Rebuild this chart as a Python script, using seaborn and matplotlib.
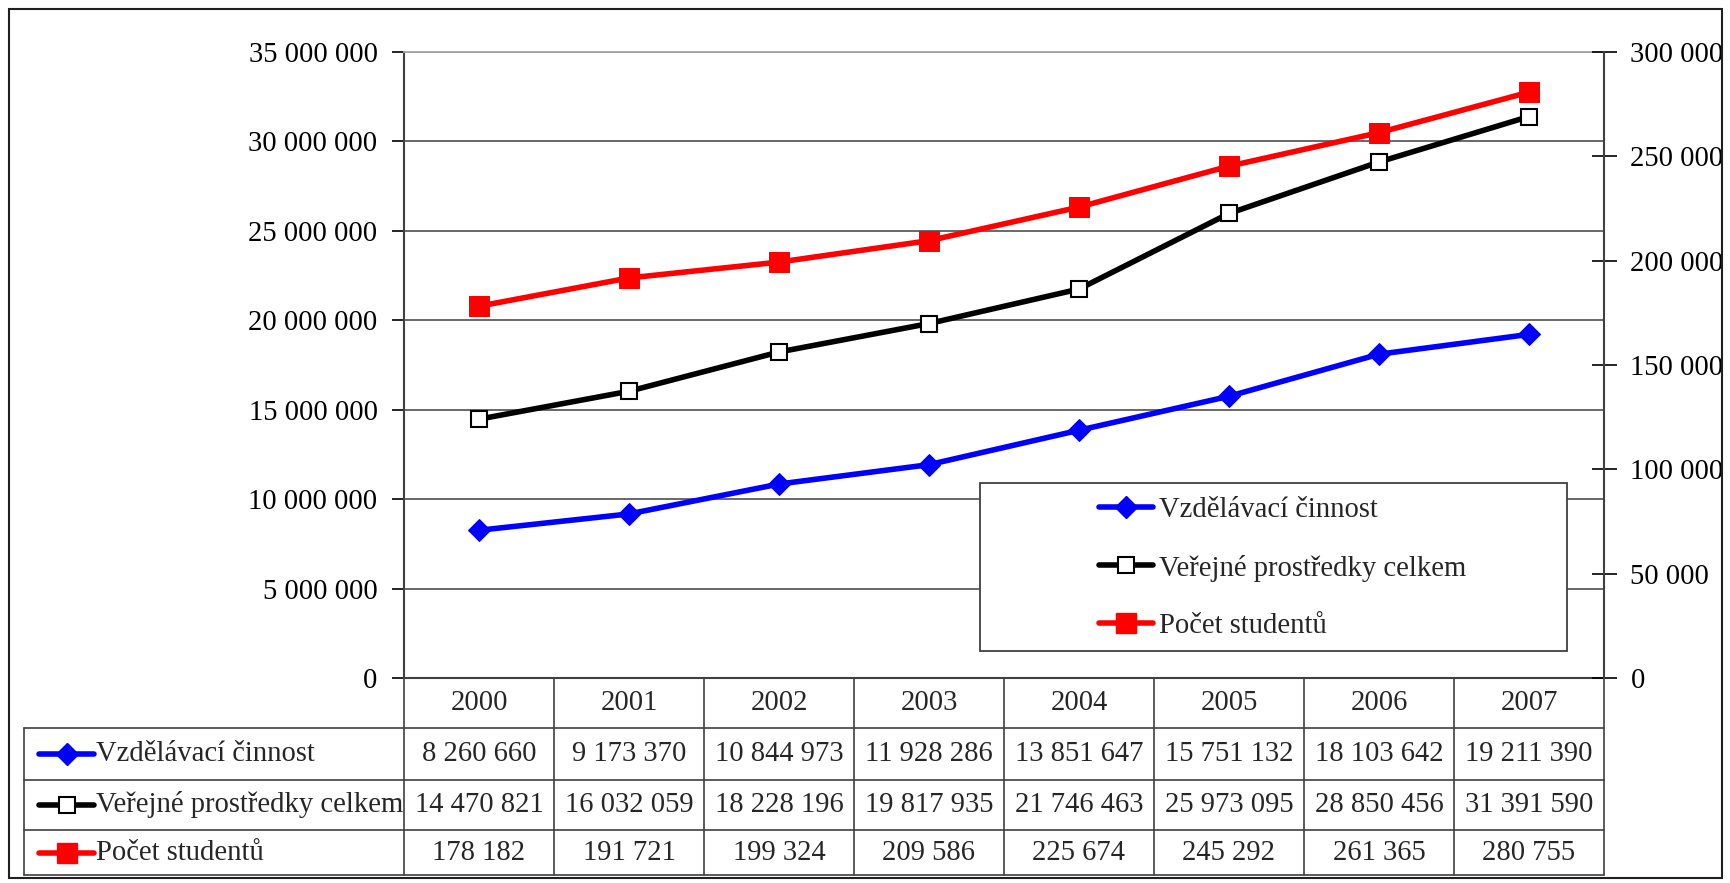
import matplotlib
matplotlib.use("Agg")
import matplotlib.pyplot as plt
import numpy as np
import seaborn as sns
from matplotlib.lines import Line2D
from matplotlib.patches import Rectangle
from matplotlib.ticker import FuncFormatter, MultipleLocator

years = ["2000", "2001", "2002", "2003", "2004", "2005", "2006", "2007"]
vzdelavaci = [8260660, 9173370, 10844973, 11928286, 13851647, 15751132, 18103642, 19211390]
verejne = [14470821, 16032059, 18228196, 19817935, 21746463, 25973095, 28850456, 31391590]
studenti = [178182, 191721, 199324, 209586, 225674, 245292, 261365, 280755]

series_names = ["Vzdělávací činnost", "Veřejné prostředky celkem", "Počet studentů"]

W, H = 1730, 883
FS = 20.6
LW = 4.0
GRID = "#404040"

sns.set_style("white")
plt.rcParams["font.family"] = ["Liberation Serif", "DejaVu Serif"]
plt.rcParams["font.size"] = FS


def fmt(v, _=None):
    return f"{int(v):,}".replace(",", " ")


styles = [
    dict(color="blue", marker="D", markersize=11.5, markerfacecolor="blue", markeredgecolor="blue"),
    dict(color="black", marker="s", markersize=12, markerfacecolor="white",
         markeredgecolor="black", markeredgewidth=1.5),
    dict(color="red", marker="s", markersize=14.5, markerfacecolor="red", markeredgecolor="red"),
]

fig = plt.figure(figsize=(W / 100, H / 100), dpi=100)

# plot area in pixels
pl, pr, pt, pb = 404, 1604, 52, 678
ax = fig.add_axes([pl / W, 1 - pb / H, (pr - pl) / W, (pb - pt) / H])
x = np.arange(len(years))

sns.lineplot(x=x, y=vzdelavaci, ax=ax, linewidth=LW, **styles[0])
sns.lineplot(x=x, y=verejne, ax=ax, linewidth=LW, **styles[1])
ax.set_xlim(-0.5, len(years) - 0.5)
ax.set_ylim(0, 35_000_000)
ax.yaxis.set_major_locator(MultipleLocator(5_000_000))
ax.yaxis.set_major_formatter(FuncFormatter(fmt))
ax.set_xticks([])
ax.yaxis.grid(True, color=GRID, linewidth=1.1)
ax.get_ygridlines()[-1].set_visible(False)
ax.tick_params(axis="y", left=True, direction="out", length=9, width=1.2, pad=10, labelsize=FS, colors="black")
for side in ["left", "bottom"]:
    ax.spines[side].set_color(GRID)
    ax.spines[side].set_linewidth(1.5)
ax.spines["top"].set_color("#a8a8a8")
ax.spines["top"].set_linewidth(1.3)
ax.spines["right"].set_visible(False)

ax2 = ax.twinx()
sns.lineplot(x=x, y=studenti, ax=ax2, linewidth=LW, **styles[2])
ax2.set_ylim(0, 300_000)
ax2.yaxis.set_major_locator(MultipleLocator(50_000))
ax2.yaxis.set_major_formatter(FuncFormatter(fmt))
ax2.tick_params(axis="y", right=True, direction="inout", length=18, width=1.2, pad=10, labelsize=FS, colors="black")
ax2.spines["right"].set_color(GRID)
ax2.spines["right"].set_linewidth(1.5)
for side in ["left", "top", "bottom"]:
    ax2.spines[side].set_visible(False)
ax2.set_ylabel("")
ax.set_ylabel("")

# legend box
box = Rectangle((980 / W, 1 - 651 / H), (1567 - 980) / W, (651 - 483) / H,
                transform=fig.transFigure, facecolor="white", edgecolor=GRID, linewidth=1.3, zorder=4)
ax2.add_patch(box)
handles = [Line2D([], [], linewidth=LW, **s) for s in styles]
ax2.legend(handles, series_names, loc="upper left", bbox_to_anchor=(1099 / W, 1 - 497 / H),
           bbox_transform=fig.transFigure, frameon=False, borderpad=0, borderaxespad=0,
           handlelength=1.9, handletextpad=0.2, labelspacing=1.1, fontsize=FS).set_zorder(6)

# data table below the plot
tb = 875
tab = fig.add_axes([pl / W, 1 - tb / H, (pr - pl) / W, (tb - pb) / H])
tab.set_xlim(-0.5, len(years) - 0.5)
tab.set_ylim(tb - pb, 0)
tab.axis("off")

px = (pr - pl) / len(years)


def xd(p):
    return -0.5 + (p - pl) / px


row_edges = [0, 50, 102, 152, tb - pb]
left_x = xd(24)
lk = dict(color=GRID, linewidth=1.2, clip_on=False)
for k in range(len(years) + 1):
    tab.plot([k - 0.5, k - 0.5], [0, row_edges[-1]], **lk)
for y in row_edges[1:]:
    tab.plot([left_x, len(years) - 0.5], [y, y], **lk)
tab.plot([left_x, left_x], [row_edges[1], row_edges[-1]], **lk)

for i, yr in enumerate(years):
    tab.text(i, (row_edges[0] + row_edges[1]) / 2, yr, ha="center", va="center", fontsize=FS)

for r, (name, vals, st) in enumerate(zip(series_names, [vzdelavaci, verejne, studenti], styles)):
    yc = (row_edges[r + 1] + row_edges[r + 2]) / 2
    tab.plot([xd(39), xd(94)], [yc, yc], color=st["color"], linewidth=LW, clip_on=False)
    tab.plot([(xd(39) + xd(94)) / 2], [yc], linestyle="none", clip_on=False,
             **{k: v for k, v in st.items() if k != "color"})
    tab.text(xd(96), yc, name, ha="left", va="center", fontsize=FS)
    for i, v in enumerate(vals):
        tab.text(i, yc, fmt(v), ha="center", va="center", fontsize=FS)

# outer frame
fig.patches.append(Rectangle((9 / W, 1 - 878 / H), (1722 - 9) / W, (878 - 9) / H,
                             transform=fig.transFigure, fill=False, edgecolor="#202020", linewidth=1.5))

fig.savefig("out.png", dpi=100)
